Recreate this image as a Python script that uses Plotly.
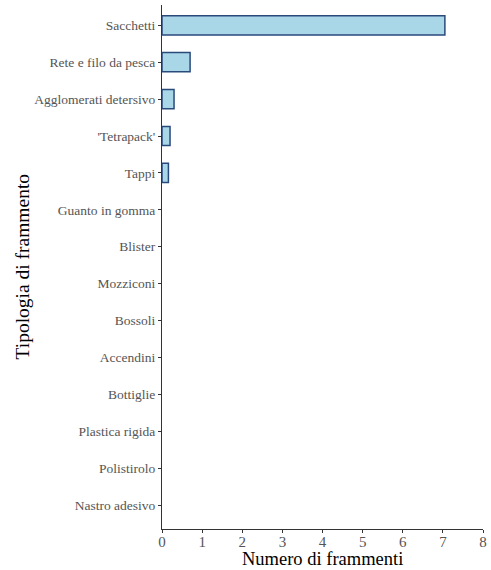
import plotly.graph_objects as go

categories = ["Sacchetti", "Rete e filo da pesca", "Agglomerati detersivo", "'Tetrapack'",
              "Tappi", "Guanto in gomma", "Blister", "Mozziconi", "Bossoli", "Accendini",
              "Bottiglie", "Plastica rigida", "Polistirolo", "Nastro adesivo"]
values = [7.05, 0.7, 0.3, 0.2, 0.16, 0, 0, 0, 0, 0, 0, 0, 0, 0]
x_ticks = [0, 1, 2, 3, 4, 5, 6, 7, 8]

serif = "Liberation Serif"

fig = go.Figure(go.Bar(
    x=values, y=categories, orientation="h", width=0.52,
    marker=dict(color="#a9d7e8",
                line=dict(color="#2b4a7c", width=[1.5 if v > 0 else 0 for v in values])),
))

fig.update_layout(
    width=491, height=570,
    margin=dict(l=162, r=8, t=5, b=41, autoexpand=False),
    plot_bgcolor="white", paper_bgcolor="white",
    showlegend=False,
    font=dict(family=serif),
    annotations=[
        dict(text="Numero di frammenti", xref="paper", yref="paper", x=0.5, y=0,
             yshift=-30, xanchor="center", yanchor="middle", showarrow=False,
             font=dict(family=serif, size=18.5, color="black")),
        dict(text="Tipologia di frammento", xref="paper", yref="paper", x=0, y=0.5,
             xshift=-153, xanchor="left", yanchor="middle", textangle=-90, showarrow=False,
             font=dict(family=serif, size=19.5, color="black")),
    ],
)
fig.update_xaxes(
    range=[0, 8], tickvals=x_ticks, showgrid=False, zeroline=False, automargin=False,
    showline=True, linecolor="#333333", linewidth=1,
    ticks="outside", ticklen=3, tickcolor="#333333",
    ticklabelstandoff=-4,
    tickfont=dict(family=serif, size=15, color="#555555"),
)
fig.update_yaxes(
    categoryorder="array", categoryarray=categories[::-1],
    range=[-0.65, len(categories) - 0.45], automargin=False,
    showgrid=False, zeroline=False,
    showline=True, linecolor="#333333", linewidth=1,
    ticks="outside", ticklen=3, tickcolor="#333333",
    tickfont=dict(family=serif, size=13.5, color="#555555"),
)

fig.write_html("out.html", config={"displayModeBar": False},
               post_script="document.body.style.margin='0';")
